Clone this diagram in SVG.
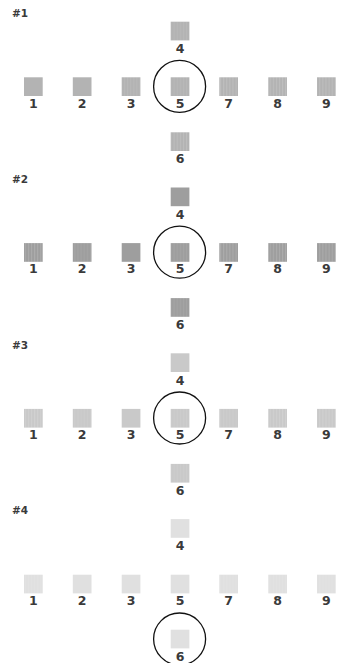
<svg xmlns="http://www.w3.org/2000/svg" width="339" height="663" viewBox="0 0 339 663">
<style>
text{font-family:"DejaVu Sans",Verdana,sans-serif;font-weight:bold;fill:#3a3a3a;}
.lb{font-size:12.5px;text-anchor:middle;}
.hd{font-size:10.5px;}
.s1{fill:#b3b3b3;}
.s2{fill:#9e9e9e;}
.s3{fill:#c9c9c9;}
.s4{fill:#e0e0e0;}
.st{fill:url(#stripes);}
.st2{fill:url(#stripes);opacity:0.5;}
.ring{fill:none;stroke:#111;stroke-width:1.3;}
</style>
<defs>
<pattern id="stripes" patternUnits="userSpaceOnUse" width="3.1" height="4">
<rect x="0" y="0" width="1" height="4" fill="#ffffff" fill-opacity="0.15"/>
</pattern>
</defs>
<rect width="339" height="663" fill="#ffffff"/>

<!-- Section 1 -->
<g id="sec1">
<text class="hd" x="12" y="17">#1</text>
<g id="s1n4"><rect class="s1" x="170.7" y="21.7" width="18.7" height="18.7"/><rect class="st2" x="170.7" y="21.7" width="18.7" height="18.7"/><text class="lb" x="180" y="53">4</text></g>
<g id="s1n1"><rect class="s1" x="24" y="77.3" width="18.7" height="18.7"/><text class="lb" x="33.3" y="107.7">1</text></g>
<g id="s1n2"><rect class="s1" x="72.8" y="77.3" width="18.7" height="18.7"/><text class="lb" x="82.2" y="107.7">2</text></g>
<g id="s1n3"><rect class="s1" x="121.7" y="77.3" width="18.7" height="18.7"/><rect class="st2" x="121.7" y="77.3" width="18.7" height="18.7"/><text class="lb" x="131" y="107.7">3</text></g>
<g id="s1n5"><rect class="s1" x="170.7" y="77.3" width="18.7" height="18.7"/><rect class="st2" x="170.7" y="77.3" width="18.7" height="18.7"/><text class="lb" x="180" y="107.7">5</text></g>
<g id="s1n7"><rect class="s1" x="219.3" y="77.3" width="18.7" height="18.7"/><rect class="st" x="219.3" y="77.3" width="18.7" height="18.7"/><text class="lb" x="228.7" y="107.7">7</text></g>
<g id="s1n8"><rect class="s1" x="268.3" y="77.3" width="18.7" height="18.7"/><rect class="st" x="268.3" y="77.3" width="18.7" height="18.7"/><text class="lb" x="277.7" y="107.7">8</text></g>
<g id="s1n9"><rect class="s1" x="317" y="77.3" width="18.7" height="18.7"/><rect class="st" x="317" y="77.3" width="18.7" height="18.7"/><text class="lb" x="326.3" y="107.7">9</text></g>
<g id="s1n6"><rect class="s1" x="170.7" y="132.3" width="18.7" height="18.7"/><rect class="st" x="170.7" y="132.3" width="18.7" height="18.7"/><text class="lb" x="180" y="163.3">6</text></g>
<circle id="s1ring" class="ring" cx="179.6" cy="86.4" r="26"/>
</g>

<!-- Section 2 -->
<g id="sec2" transform="translate(0,165.8)">
<text class="hd" x="12" y="17">#2</text>
<g id="s2n4"><rect class="s2" x="170.7" y="21.7" width="18.7" height="18.7"/><text class="lb" x="180" y="53">4</text></g>
<g id="s2n1"><rect class="s2" x="24" y="77.3" width="18.7" height="18.7"/><rect class="st" x="24" y="77.3" width="18.7" height="18.7"/><text class="lb" x="33.3" y="107.7">1</text></g>
<g id="s2n2"><rect class="s2" x="72.8" y="77.3" width="18.7" height="18.7"/><rect class="st2" x="72.8" y="77.3" width="18.7" height="18.7"/><text class="lb" x="82.2" y="107.7">2</text></g>
<g id="s2n3"><rect class="s2" x="121.7" y="77.3" width="18.7" height="18.7"/><text class="lb" x="131" y="107.7">3</text></g>
<g id="s2n5"><rect class="s2" x="170.7" y="77.3" width="18.7" height="18.7"/><rect class="st2" x="170.7" y="77.3" width="18.7" height="18.7"/><text class="lb" x="180" y="107.7">5</text></g>
<g id="s2n7"><rect class="s2" x="219.3" y="77.3" width="18.7" height="18.7"/><rect class="st" x="219.3" y="77.3" width="18.7" height="18.7"/><text class="lb" x="228.7" y="107.7">7</text></g>
<g id="s2n8"><rect class="s2" x="268.3" y="77.3" width="18.7" height="18.7"/><rect class="st" x="268.3" y="77.3" width="18.7" height="18.7"/><text class="lb" x="277.7" y="107.7">8</text></g>
<g id="s2n9"><rect class="s2" x="317" y="77.3" width="18.7" height="18.7"/><rect class="st" x="317" y="77.3" width="18.7" height="18.7"/><text class="lb" x="326.3" y="107.7">9</text></g>
<g id="s2n6"><rect class="s2" x="170.7" y="132.3" width="18.7" height="18.7"/><rect class="st2" x="170.7" y="132.3" width="18.7" height="18.7"/><text class="lb" x="180" y="163.3">6</text></g>
<circle id="s2ring" class="ring" cx="179.6" cy="86.4" r="26"/>
</g>

<!-- Section 3 -->
<g id="sec3" transform="translate(0,331.6)">
<text class="hd" x="12" y="17">#3</text>
<g id="s3n4"><rect class="s3" x="170.7" y="21.7" width="18.7" height="18.7"/><text class="lb" x="180" y="53">4</text></g>
<g id="s3n1"><rect class="s3" x="24" y="77.3" width="18.7" height="18.7"/><rect class="st" x="24" y="77.3" width="18.7" height="18.7"/><text class="lb" x="33.3" y="107.7">1</text></g>
<g id="s3n2"><rect class="s3" x="72.8" y="77.3" width="18.7" height="18.7"/><rect class="st2" x="72.8" y="77.3" width="18.7" height="18.7"/><text class="lb" x="82.2" y="107.7">2</text></g>
<g id="s3n3"><rect class="s3" x="121.7" y="77.3" width="18.7" height="18.7"/><text class="lb" x="131" y="107.7">3</text></g>
<g id="s3n5"><rect class="s3" x="170.7" y="77.3" width="18.7" height="18.7"/><rect class="st2" x="170.7" y="77.3" width="18.7" height="18.7"/><text class="lb" x="180" y="107.7">5</text></g>
<g id="s3n7"><rect class="s3" x="219.3" y="77.3" width="18.7" height="18.7"/><rect class="st2" x="219.3" y="77.3" width="18.7" height="18.7"/><text class="lb" x="228.7" y="107.7">7</text></g>
<g id="s3n8"><rect class="s3" x="268.3" y="77.3" width="18.7" height="18.7"/><rect class="st" x="268.3" y="77.3" width="18.7" height="18.7"/><text class="lb" x="277.7" y="107.7">8</text></g>
<g id="s3n9"><rect class="s3" x="317" y="77.3" width="18.7" height="18.7"/><rect class="st" x="317" y="77.3" width="18.7" height="18.7"/><text class="lb" x="326.3" y="107.7">9</text></g>
<g id="s3n6"><rect class="s3" x="170.7" y="132.3" width="18.7" height="18.7"/><rect class="st2" x="170.7" y="132.3" width="18.7" height="18.7"/><text class="lb" x="180" y="163.3">6</text></g>
<circle id="s3ring" class="ring" cx="179.6" cy="86.4" r="26"/>
</g>

<!-- Section 4 -->
<g id="sec4" transform="translate(0,497.4)">
<text class="hd" x="12" y="17">#4</text>
<g id="s4n4"><rect class="s4" x="170.7" y="21.7" width="18.7" height="18.7"/><text class="lb" x="180" y="53">4</text></g>
<g id="s4n1"><rect class="s4" x="24" y="77.3" width="18.7" height="18.7"/><rect class="st2" x="24" y="77.3" width="18.7" height="18.7"/><text class="lb" x="33.3" y="107.7">1</text></g>
<g id="s4n2"><rect class="s4" x="72.8" y="77.3" width="18.7" height="18.7"/><text class="lb" x="82.2" y="107.7">2</text></g>
<g id="s4n3"><rect class="s4" x="121.7" y="77.3" width="18.7" height="18.7"/><text class="lb" x="131" y="107.7">3</text></g>
<g id="s4n5"><rect class="s4" x="170.7" y="77.3" width="18.7" height="18.7"/><text class="lb" x="180" y="107.7">5</text></g>
<g id="s4n7"><rect class="s4" x="219.3" y="77.3" width="18.7" height="18.7"/><rect class="st2" x="219.3" y="77.3" width="18.7" height="18.7"/><text class="lb" x="228.7" y="107.7">7</text></g>
<g id="s4n8"><rect class="s4" x="268.3" y="77.3" width="18.7" height="18.7"/><rect class="st2" x="268.3" y="77.3" width="18.7" height="18.7"/><text class="lb" x="277.7" y="107.7">8</text></g>
<g id="s4n9"><rect class="s4" x="317" y="77.3" width="18.7" height="18.7"/><rect class="st2" x="317" y="77.3" width="18.7" height="18.7"/><text class="lb" x="326.3" y="107.7">9</text></g>
<g id="s4n6"><rect class="s4" x="170.7" y="132.3" width="18.7" height="18.7"/><text class="lb" x="180" y="163.3">6</text></g>
<circle id="s4ring" class="ring" cx="179.6" cy="141.6" r="26"/>
</g>

<g id="connectors"></g>
</svg>
